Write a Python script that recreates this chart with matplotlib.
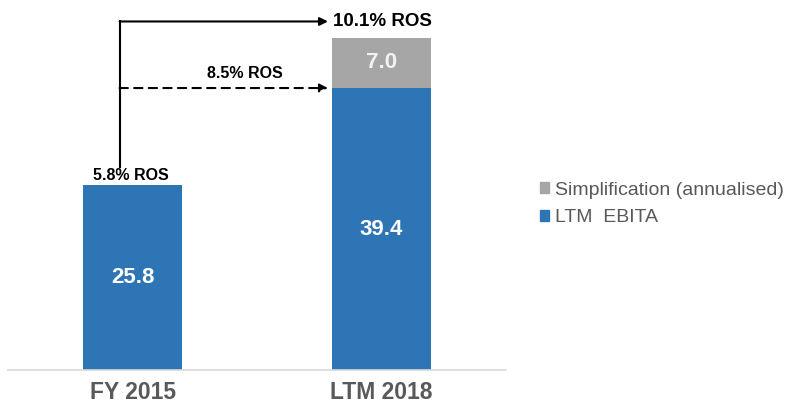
import matplotlib.pyplot as plt
from matplotlib.patches import Patch

plt.rcParams['font.family'] = ['Liberation Sans', 'DejaVu Sans']

periods = ['FY 2015', 'LTM 2018']
ebita = [25.8, 39.4]
simplification = [0.0, 7.0]
ros_start = '5.8% ROS'
ros_mid = '8.5% ROS'
ros_end = '10.1% ROS'

blue = '#2E75B6'
grey = '#A6A6A6'
txt = '#595959'

fig = plt.figure(figsize=(7.86, 4.07), dpi=100)
ax = fig.add_axes([8 / 786, 37 / 407, 498 / 786, 370 / 407])

x = range(len(periods))
ax.bar(x, ebita, width=0.4, color=blue, zorder=2)
ax.bar(x, simplification, bottom=ebita, width=0.4, color=grey, zorder=2)
ax.set_xlim(-0.5, 1.5)
ax.set_ylim(0, 51.7)

for i, v in enumerate(ebita):
    ax.text(i, v / 2, f'{v:.1f}', ha='center', va='center', color='white',
            fontsize=16, fontweight='bold')
ax.text(1, ebita[1] + simplification[1] / 2, f'{simplification[1]:.1f}',
        ha='center', va='center', color='#F2F2F2', fontsize=16, fontweight='bold')

# ROS annotations
total = ebita[1] + simplification[1]
x0, x1 = -0.052, 0.785
y_top = total + 2.3
ax.plot([x0, x0], [ebita[0] + 2.5, y_top], color='black', lw=1.5)
ax.annotate('', xy=(x1, y_top), xytext=(x0, y_top),
            arrowprops=dict(arrowstyle='-|>', color='black', lw=1.5,
                            mutation_scale=12, shrinkA=0, shrinkB=0))
ax.annotate('', xy=(x1, ebita[1]), xytext=(x0, ebita[1]),
            arrowprops=dict(arrowstyle='-|>', color='black', lw=1.5, ls=(0, (4, 3)),
                            mutation_scale=12, shrinkA=0, shrinkB=0))
ax.text(-0.008, ebita[0] + 0.3, ros_start, ha='center', va='bottom',
        fontsize=11.5, fontweight='bold')
ax.text(0.45, ebita[1] + 1.0, ros_mid, ha='center', va='bottom',
        fontsize=11.5, fontweight='bold')
ax.text(0.805, y_top, ros_end, ha='left', va='center',
        fontsize=13.5, fontweight='bold')

ax.set_xticks(list(x))
ax.set_xticklabels(periods, fontsize=16.5, fontweight='bold', color=txt)
ax.tick_params(axis='x', length=0, pad=8)
ax.set_yticks([])
for s in ['top', 'right', 'left']:
    ax.spines[s].set_visible(False)
ax.spines['bottom'].set_color('#D9D9D9')
ax.spines['bottom'].set_linewidth(1.2)

handles = [Patch(color=grey), Patch(color=blue)]
labels = ['Simplification (annualised)', 'LTM  EBITA']
fig.legend(handles, labels, loc='center left', bbox_to_anchor=(530 / 786, 1 - 204 / 407),
           frameon=False, fontsize=14, labelcolor=txt, handlelength=0.5,
           handleheight=0.5, handletextpad=0.3, labelspacing=0.55, borderpad=0)

fig.savefig('out.png', dpi=100)
